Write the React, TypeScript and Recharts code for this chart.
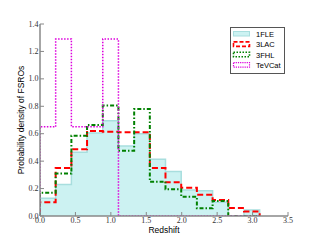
import React from 'react';
import { ComposedChart, Area, Line, XAxis, YAxis, Legend } from 'recharts';

const binEdges = [0, 0.221, 0.443, 0.664, 0.886, 1.107, 1.329, 1.55, 1.771, 1.993, 2.214, 2.436, 2.657, 2.879, 3.1];
const fle1 = [0.13, 0.23, 0.465, 0.605, 0.695, 0.51, 0.6, 0.413, 0.325, 0.19, 0.185, 0.1, 0, 0.044];
const lac3 = [0.1, 0.35, 0.487, 0.62, 0.615, 0.61, 0.61, 0.35, 0.246, 0.206, 0.155, 0.117, 0.058, 0.033];
const fhl3 = [0.17, 0.31, 0.586, 0.664, 0.805, 0.476, 0.78, 0.25, 0.195, 0.141, 0.056, 0.11, 0, 0];
const tevcat = [0.65, 1.29, 0.65, 0.65, 1.29, 0, 0, 0, 0, 0, 0, 0, 0, 0];
const xTicks = [0, 0.5, 1, 1.5, 2, 2.5, 3, 3.5];
const yTicks = [0, 0.2, 0.4, 0.6, 0.8, 1.0, 1.2, 1.4];
const seriesNames = ['1FLE', '3LAC', '3FHL', 'TeVCat'];

const data: any[] = [{ x: binEdges[0], fle: 0, lac: 0, fhl: 0, tev: 0 }];
for (let i = 0; i < fle1.length; i++) {
  data.push({ x: binEdges[i], fle: fle1[i], lac: lac3[i], fhl: fhl3[i], tev: tevcat[i] });
}
data.push({ x: binEdges[binEdges.length - 1], fle: 0, lac: 0, fhl: 0, tev: 0 });

const FRAME = '#888888';
const noTick = () => <g />;

const XTick = (p: any) => (
  <text x={p.x} y={p.y} dy="0.71em" textAnchor="middle" fontFamily="Liberation Serif" fontSize={8} fill="#333">
    {Number(p.payload.value).toFixed(1)}
  </text>
);
const YTick = (p: any) => (
  <text x={p.x} y={p.y} dy="0.33em" textAnchor="end" fontFamily="Liberation Serif" fontSize={8} fill="#333">
    {Number(p.payload.value).toFixed(1)}
  </text>
);

const legendStyles = [
  { fill: '#ccf2f2', stroke: '#a8dede', dash: undefined, w: 1 },
  { fill: 'none', stroke: '#ff0000', dash: '4 2', w: 1.6 },
  { fill: 'none', stroke: '#008000', dash: '1.5 1.5', w: 1.6 },
  { fill: 'none', stroke: '#dd00dd', dash: '1.2 1', w: 1.2 },
];

const LegendBox = () => (
  <svg width={56} height={48} style={{ display: 'block' }}>
    <rect x={0.5} y={0.5} width={54} height={46} fill="#fff" stroke="#555" strokeWidth={1} />
    {seriesNames.map((n, i) => (
      <g key={n}>
        <rect x={3.5} y={4.5 + i * 10.4} width={16} height={4.5} fill={legendStyles[i].fill}
          stroke={legendStyles[i].stroke} strokeWidth={legendStyles[i].w} strokeDasharray={legendStyles[i].dash} />
        <text x={26} y={10 + i * 10.4} fontFamily="Liberation Sans" fontSize={7.5} fill="#000">{n}</text>
      </g>
    ))}
  </svg>
);

export default function App() {
  return (
    <div style={{ position: 'absolute', left: 0, top: 0, width: 320, height: 240, background: '#fff' }}>
      <ComposedChart width={320} height={240} data={data} margin={{ top: 24, right: 32, left: 0, bottom: 0 }}>
        <XAxis dataKey="x" type="number" domain={[0, 3.5]} ticks={xTicks}
          allowDataOverflow height={24} tickSize={-4} tickMargin={5.5} tick={XTick}
          axisLine={{ stroke: FRAME, strokeWidth: 1.5 }} tickLine={{ stroke: FRAME }}
          label={{ value: 'Redshift', position: 'center', dy: 2, style: { fontFamily: 'Liberation Sans', fontSize: 8.5, fill: '#000' } }} />
        <XAxis xAxisId="top" orientation="top" dataKey="x" type="number" domain={[0, 3.5]} ticks={xTicks}
          allowDataOverflow height={0} tickSize={-4} tick={noTick}
          axisLine={{ stroke: FRAME, strokeWidth: 1.5 }} tickLine={{ stroke: FRAME }} />
        <YAxis type="number" domain={[0, 1.4]} ticks={yTicks} width={40}
          allowDataOverflow tickSize={-4} tickMargin={5.5} tick={YTick}
          axisLine={{ stroke: FRAME, strokeWidth: 1.5 }} tickLine={{ stroke: FRAME }}
          label={{ value: 'Probability density of FSROs', angle: -90, position: 'center', dx: 1, style: { fontFamily: 'Liberation Sans', fontSize: 8.5, fill: '#000' } }} />
        <YAxis yAxisId="right" orientation="right" type="number" domain={[0, 1.4]} ticks={yTicks} width={0}
          allowDataOverflow tickSize={-4} tick={noTick}
          axisLine={{ stroke: FRAME, strokeWidth: 1.5 }} tickLine={{ stroke: FRAME }} />
        <Area dataKey="fle" type="stepAfter" fill="#ccf2f2" fillOpacity={1} stroke="#a8dede" strokeWidth={1.5}
          isAnimationActive={false} dot={false} activeDot={false} />
        <Line dataKey="lac" type="stepAfter" stroke="#ff0000" strokeWidth={2} strokeDasharray="6 3"
          isAnimationActive={false} dot={false} activeDot={false} />
        <Line dataKey="fhl" type="stepAfter" stroke="#008000" strokeWidth={2} strokeDasharray="4 2 1.5 2"
          isAnimationActive={false} dot={false} activeDot={false} />
        <Line dataKey="tev" type="stepAfter" stroke="#dd00dd" strokeWidth={1.5} strokeDasharray="1.5 1.5"
          isAnimationActive={false} dot={false} activeDot={false} />
        <Legend layout="horizontal" verticalAlign="middle" align="center" content={LegendBox}
          wrapperStyle={{ position: 'absolute', left: 230, top: 27, width: 56, height: 48, margin: 0 }} />
      </ComposedChart>
    </div>
  );
}
